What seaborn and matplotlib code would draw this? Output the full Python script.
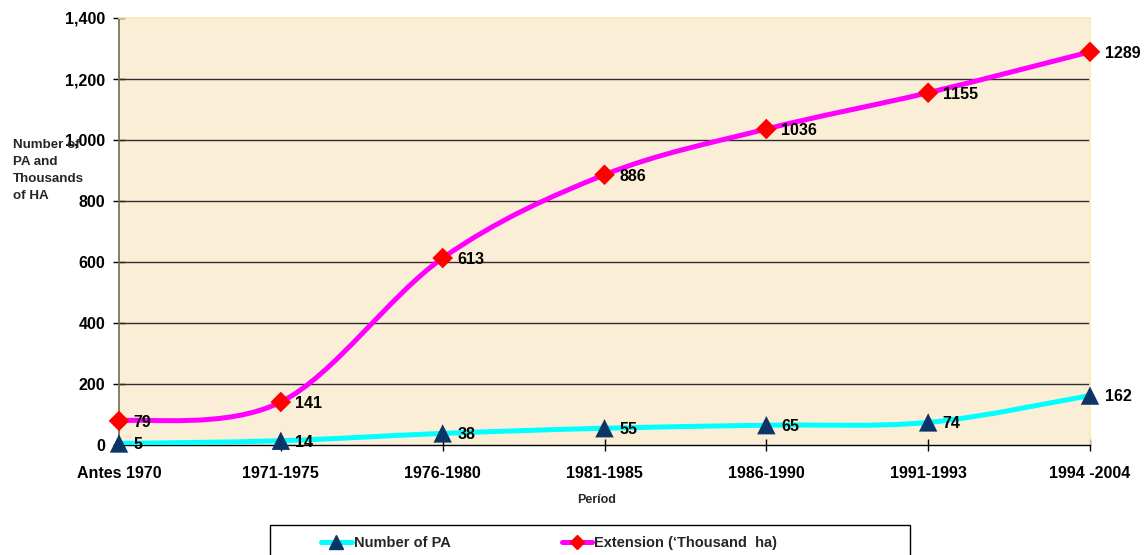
import numpy as np
import pandas as pd
import matplotlib
matplotlib.use("Agg")
import matplotlib.pyplot as plt
from matplotlib.path import Path
from matplotlib.patches import PathPatch, Rectangle
from matplotlib.lines import Line2D
import seaborn as sns

# Protected areas by creation period
periods = ["Antes 1970", "1971-1975", "1976-1980", "1981-1985",
           "1986-1990", "1991-1993", "1994 -2004"]
number_of_pa = [5, 14, 38, 55, 65, 74, 162]
extension_kha = [79, 141, 613, 886, 1036, 1155, 1289]
y_ticks = [0, 200, 400, 600, 800, 1000, 1200, 1400]

series_names = ["Number of PA", "Extension (\u2018Thousand  ha)"]
line_colors = ["#00FFFF", "#FF00FF"]
marker_colors = ["#0B3566", "#FF0000"]
marker_shapes = ["^", "D"]

sns.set_theme(style="white")
plt.rcParams["font.family"] = ["Liberation Sans", "DejaVu Sans"]
plt.rcParams["font.weight"] = "bold"

fig = plt.figure(figsize=(11.45, 5.55), dpi=100)
ax = fig.add_axes([119 / 1145, 1 - 445 / 555, (1090 - 119) / 1145, (445 - 18) / 555])
ax.set_facecolor("#FBEED6")


def smooth_path(xs, ys):
    """Smoothed polyline through the points (cardinal spline as Bezier segments)."""
    pts = np.column_stack([xs, ys]).astype(float)
    ext = np.vstack([pts[0], pts, pts[-1]])
    verts = [tuple(pts[0])]
    codes = [Path.MOVETO]
    for i in range(1, len(ext) - 2):
        p0, p1, p2, p3 = ext[i - 1], ext[i], ext[i + 1], ext[i + 2]
        c1 = p1 + (p2 - p0) / 6.0
        c2 = p2 - (p3 - p1) / 6.0
        verts += [tuple(c1), tuple(c2), tuple(p2)]
        codes += [Path.CURVE4] * 3
    return Path(verts, codes)


df = pd.DataFrame({
    "x": list(range(len(periods))) * 2,
    "value": number_of_pa + extension_kha,
    "series": [series_names[0]] * len(periods) + [series_names[1]] * len(periods),
})

for k, name in enumerate(series_names):
    sub = df[df["series"] == name]
    ax.add_patch(PathPatch(smooth_path(sub["x"], sub["value"]), facecolor="none",
                           edgecolor=line_colors[k], lw=3.6, zorder=3,
                           capstyle="round", joinstyle="round"))
    sns.scatterplot(data=sub, x="x", y="value", marker=marker_shapes[k],
                    color=marker_colors[k], s=175 if k == 0 else 110,
                    edgecolor="none", ax=ax, zorder=4, legend=False, clip_on=False)
    for xv, yv in zip(sub["x"], sub["value"]):
        ax.annotate(f"{yv}", (xv, yv), xytext=(10.5, -1), textcoords="offset points",
                    ha="left", va="center", fontsize=11.5, fontweight="bold",
                    color="black", zorder=5, annotation_clip=False)

ax.set_xlim(0, len(periods) - 1)
ax.set_ylim(0, 1400)
ax.set_xticks(range(len(periods)))
ax.set_xticklabels(periods)
ax.set_yticks(y_ticks)
ax.set_yticklabels([f"{v:,}" for v in y_ticks])
ax.tick_params(axis="both", labelsize=11.5, colors="black", direction="inout",
               length=8, width=1, bottom=True, left=True)
ax.tick_params(axis="x", pad=11)
ax.tick_params(axis="y", pad=6)
for lab in ax.get_xticklabels() + ax.get_yticklabels():
    lab.set_fontweight("bold")

for v in y_ticks[1:-1]:
    ax.axhline(v, color="#2E2E2E", lw=1, zorder=1)

for side in ["top", "right"]:
    ax.spines[side].set_color("#F2ECB8")
    ax.spines[side].set_linewidth(1.2)
ax.spines["left"].set_color("#6E6B55")
ax.spines["left"].set_linewidth(1.2)
ax.spines["bottom"].set_color("black")
ax.spines["bottom"].set_linewidth(1)

ax.set_xlabel("")
ax.set_ylabel("")
fig.text(597 / 1145, 1 - 500 / 555, "Per\u00edod", ha="center", va="center",
         fontsize=9, fontweight="bold")
fig.text(13 / 1145, 1 - 139 / 555, "Number of\nPA and\nThousands\nof HA", ha="left",
         va="top", fontsize=9.6, fontweight="bold", linespacing=1.55)

# Legend box along the bottom edge
fig.patches.append(Rectangle((270 / 1145, -10 / 555), 640 / 1145, 40 / 555,
                             transform=fig.transFigure, facecolor="white",
                             edgecolor="black", lw=1, zorder=0))
handles = [
    Line2D([], [], color=line_colors[k], lw=3.6, marker=marker_shapes[k],
           markerfacecolor=marker_colors[k], markeredgecolor=marker_colors[k],
           markersize=9.5 if k == 0 else 7.5)
    for k in range(2)
]
fig.legend(handles, series_names, ncol=2, loc="center left",
           bbox_to_anchor=(321 / 1145, 1 - 543 / 555), frameon=False,
           prop={"size": 10.5, "weight": "bold"}, handlelength=2.1,
           handletextpad=0.15, columnspacing=7.6, borderpad=0, borderaxespad=0)

fig.savefig("out.png", dpi=100)
